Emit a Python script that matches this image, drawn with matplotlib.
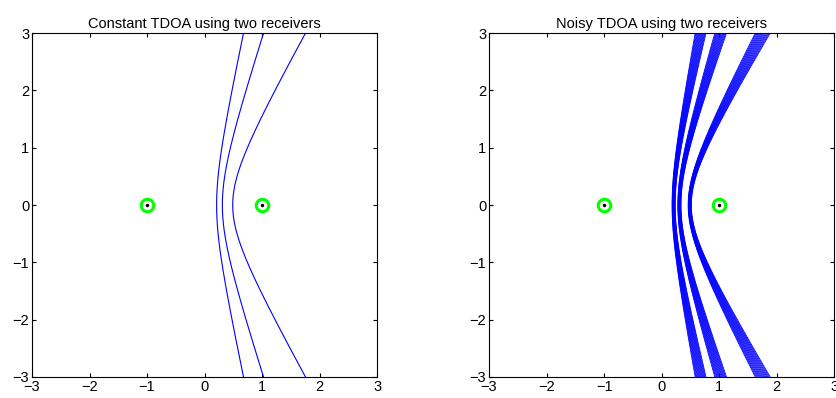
import numpy as np
import matplotlib
matplotlib.use("Agg")
import matplotlib.pyplot as plt

plt.rcParams['font.family'] = ['Liberation Sans', 'DejaVu Sans']
plt.rcParams['font.size'] = 10

# receivers on the x axis
rx_x = [-1, 1]
rx_y = [0, 0]

# hyperbola semi-axis (half the range difference) for each constant TDOA
tdoa_a = [0.21, 0.31, 0.49]
# noise offsets applied to each TDOA in the noisy plot
noise = [-0.028, -0.024, -0.020, -0.016, -0.012, -0.008, -0.004, 0.0,
         0.004, 0.008, 0.012, 0.016, 0.020, 0.024, 0.028]

ticks = [-3, -2, -1, 0, 1, 2, 3]
titles = ['Constant TDOA using two receivers', 'Noisy TDOA using two receivers']

y = np.linspace(-3, 3, 400)


def branch(a):
    # right branch of |d1 - d2| = 2a with foci at (+-1, 0)
    return a * np.sqrt(1 + y**2 / (1 - a**2))


fig = plt.figure(figsize=(8.36, 3.98), dpi=100)
ax1 = fig.add_axes([0.0383, 0.0528, 0.4127, 0.864])
ax2 = fig.add_axes([0.585, 0.0528, 0.4127, 0.864])

for a in tdoa_a:
    ax1.plot(branch(a), y, color='#0000ff', lw=0.8)

for a in tdoa_a:
    for n in noise:
        ax2.plot(branch(a + n), y, color='#0000ff', lw=0.6)

for ax, t in zip([ax1, ax2], titles):
    ax.plot(rx_x, rx_y, 'o', ms=9, mfc='white', mec='#00ff00', mew=2.2)
    ax.plot(rx_x, rx_y, '.', color='black', ms=3)
    ax.set_xlim(-3, 3)
    ax.set_ylim(-3, 3)
    ax.set_xticks(ticks)
    ax.set_yticks(ticks)
    ax.tick_params(direction='in', top=True, right=True, length=3, pad=2, labelsize=10.5)
    ax.set_title(t, fontsize=10.5, pad=4)
    for s in ax.spines.values():
        s.set_linewidth(0.8)

fig.savefig('out.png', dpi=100)
